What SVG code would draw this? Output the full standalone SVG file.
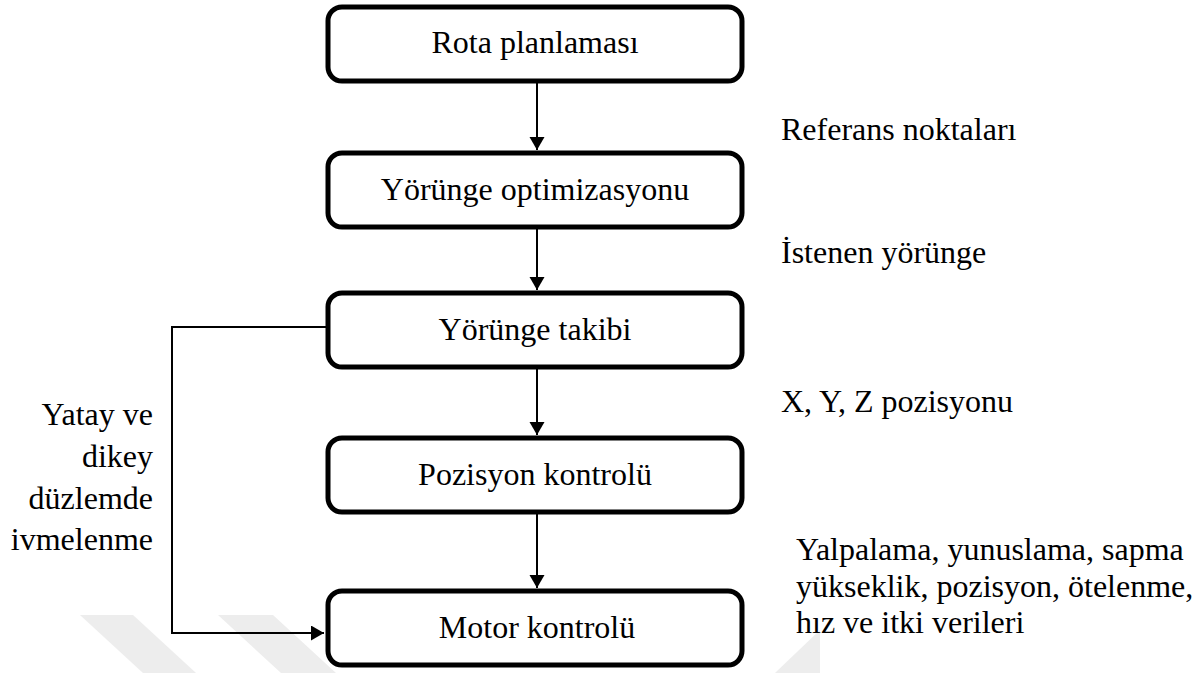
<svg xmlns="http://www.w3.org/2000/svg" width="1202" height="673" viewBox="0 0 1202 673">
  <style>
    .box { fill: #ffffff; stroke: #000000; stroke-width: 5; }
    .conn { fill: none; stroke: #000000; stroke-width: 2; }
    .wm { fill: #ededed; }
  </style>
  <defs>
    <marker id="arrow" markerUnits="userSpaceOnUse" markerWidth="14" markerHeight="16" refX="13" refY="7.5" orient="auto">
      <path d="M0,0 L13,7.5 L0,15 z" fill="#000000"/>
    </marker>
  </defs>
  <rect width="1202" height="673" fill="#ffffff"/>
  <g id="watermark">
    <polygon class="wm" points="80,615 133,615 196,673 143,673"/>
    <polygon class="wm" points="218,615 273,615 336,673 281,673"/>
    <polygon class="wm" points="775,673 820,630 820,673"/>
  </g>
  <g id="connectors">
    <line class="conn" x1="537" y1="83" x2="537" y2="150" marker-end="url(#arrow)"/>
    <line class="conn" x1="537" y1="229" x2="537" y2="290" marker-end="url(#arrow)"/>
    <line class="conn" x1="537" y1="369" x2="537" y2="435" marker-end="url(#arrow)"/>
    <line class="conn" x1="537" y1="514" x2="537" y2="588" marker-end="url(#arrow)"/>
    <polyline class="conn" points="326,327 172,327 172,633 324,633" marker-end="url(#arrow)"/>
  </g>
  <g font-family="Liberation Serif, DejaVu Serif, serif" font-size="32" fill="#000000">
    <g id="node-rota">
      <rect class="box" x="328" y="7" width="414" height="74" rx="14"/>
      <text x="535" y="53" text-anchor="middle">Rota planlaması</text>
    </g>
    <g id="node-yorunge-opt">
      <rect class="box" x="328" y="153" width="414" height="74" rx="14"/>
      <text x="535" y="200" text-anchor="middle">Yörünge optimizasyonu</text>
    </g>
    <g id="node-yorunge-takip">
      <rect class="box" x="328" y="293" width="414" height="74" rx="14"/>
      <text x="535" y="340" text-anchor="middle">Yörünge takibi</text>
    </g>
    <g id="node-pozisyon">
      <rect class="box" x="328" y="438" width="414" height="74" rx="14"/>
      <text x="535" y="485" text-anchor="middle">Pozisyon kontrolü</text>
    </g>
    <g id="node-motor">
      <rect class="box" x="328" y="591" width="414" height="74" rx="14"/>
      <text x="537" y="638" text-anchor="middle">Motor kontrolü</text>
    </g>
    <g id="labels">
      <text x="781" y="140">Referans noktaları</text>
      <text x="781" y="263">İstenen yörünge</text>
      <text x="781" y="412">X, Y, Z pozisyonu</text>
      <text x="796" y="560">Yalpalama, yunuslama, sapma</text>
      <text x="796" y="597">yükseklik, pozisyon, ötelenme,</text>
      <text x="796" y="633">hız ve itki verileri</text>
      <text x="153" y="425" text-anchor="end">Yatay ve</text>
      <text x="153" y="467" text-anchor="end">dikey</text>
      <text x="153" y="509" text-anchor="end">düzlemde</text>
      <text x="153" y="550" text-anchor="end">ivmelenme</text>
    </g>
  </g>
</svg>
